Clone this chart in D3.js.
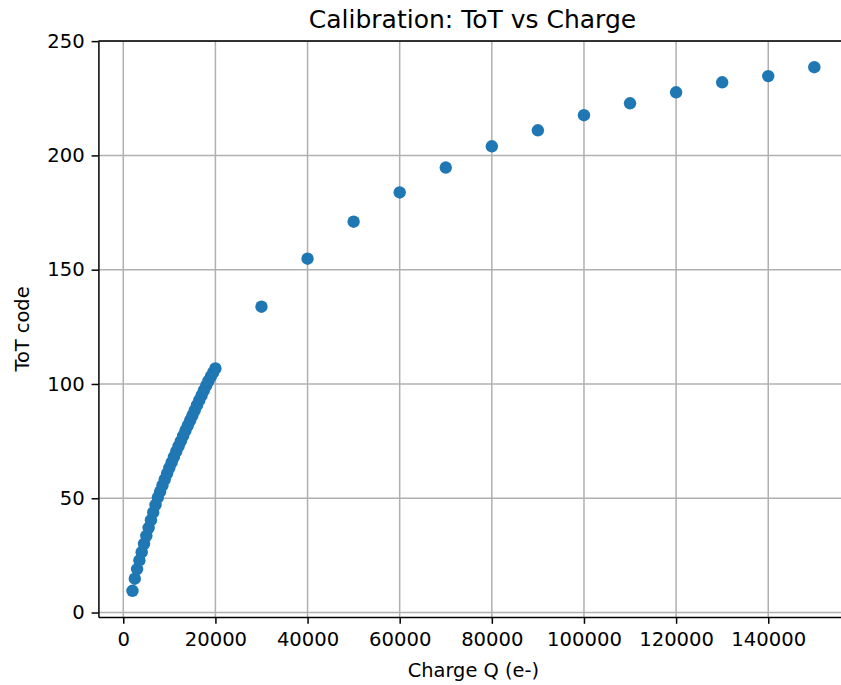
<!DOCTYPE html>
<html>
<head>
<meta charset="utf-8">
<script src="https://cdn.jsdelivr.net/npm/d3@7"></script>
<style>
    body { margin: 0; background: #fff; }
    text { font-family: "DejaVu Sans", sans-serif; fill: #000; }
</style>
</head>
<body>
<div id="chart"></div>
<script>
// dense scan, charge in e-
const chargeFine = [
    2000, 2500, 3000, 3500, 4000, 4500, 5000, 5500, 6000, 6500,
    7000, 7500, 8000, 8500, 9000, 9500, 10000, 10500, 11000, 11500,
    12000, 12500, 13000, 13500, 14000, 14500, 15000, 15500, 16000, 16500,
    17000, 17500, 18000, 18500, 19000, 19500, 20000
];
const totFine = [
    9.5, 14.8, 19.0, 22.8, 26.4, 30.0, 33.5, 37.0, 40.4, 43.8,
    47.1, 50.3, 52.9, 55.6, 58.2, 60.8, 63.3, 65.7, 68.1, 70.5,
    72.8, 75.0, 77.3, 79.6, 81.8, 84.0, 86.2, 88.4, 90.7, 92.9,
    95.0, 97.2, 99.3, 101.3, 103.2, 105.0, 106.8
];
// coarse scan
const chargeCoarse = [30000, 40000, 50000, 60000, 70000, 80000, 90000, 100000, 110000, 120000, 130000, 140000, 150000];
const totCoarse = [133.8, 154.8, 171.0, 183.8, 194.7, 204.0, 211.0, 217.6, 222.8, 227.6, 232.0, 234.7, 238.6];

const xTicks = [0, 20000, 40000, 60000, 80000, 100000, 120000, 140000];
const yTicks = [0, 50, 100, 150, 200, 250];

(function () {
    const W = 841, H = 685;
    const margin = { top: 41, left: 98.4, bottom: 68 };
    const plotW = 750, plotH = H - margin.top - margin.bottom; // right edge runs past the window

    const points = chargeFine.map((q, i) => ({ q: q, t: totFine[i] }))
        .concat(chargeCoarse.map((q, i) => ({ q: q, t: totCoarse[i] })));

    const svg = d3.select("#chart").append("svg")
        .attr("width", W)
        .attr("height", H);

    const g = svg.append("g")
        .attr("transform", `translate(${margin.left},${margin.top})`);

    // 5% padding like matplotlib autoscale
    const xExt = d3.extent(points, d => d.q), xPad = (xExt[1] - xExt[0]) * 0.05;
    const yExt = d3.extent(points, d => d.t), yPad = (yExt[1] - yExt[0]) * 0.05;

    const x = d3.scaleLinear().domain([xExt[0] - xPad, xExt[1] + xPad]).range([0, plotW]);
    const y = d3.scaleLinear().domain([yExt[0] - yPad, yExt[1] + yPad]).range([plotH, 0]);

    // grid
    g.append("g").selectAll("line").data(xTicks).enter().append("line")
        .attr("x1", d => x(d)).attr("x2", d => x(d))
        .attr("y1", 0).attr("y2", plotH)
        .attr("stroke", "#b0b0b0").attr("stroke-width", 1.5);
    g.append("g").selectAll("line").data(yTicks).enter().append("line")
        .attr("x1", 0).attr("x2", plotW)
        .attr("y1", d => y(d)).attr("y2", d => y(d))
        .attr("stroke", "#b0b0b0").attr("stroke-width", 1.5);

    // points
    g.append("g").selectAll("circle").data(points).enter().append("circle")
        .attr("cx", d => x(d.q))
        .attr("cy", d => y(d.t))
        .attr("r", 6.2)
        .attr("fill", "#1f77b4");

    // axes
    const xAxis = g.append("g")
        .attr("transform", `translate(0,${plotH})`)
        .call(d3.axisBottom(x).tickValues(xTicks).tickFormat(d3.format("d")).tickSize(6.8).tickPadding(8).tickSizeOuter(0));
    const yAxis = g.append("g")
        .call(d3.axisLeft(y).tickValues(yTicks).tickSize(6.8).tickPadding(7).tickSizeOuter(0));

    [xAxis, yAxis].forEach(a => {
        a.select(".domain").attr("stroke", "#000").attr("stroke-width", 1.5);
        a.selectAll(".tick line").attr("stroke", "#000").attr("stroke-width", 1.5);
        a.selectAll(".tick text").style("font-family", "DejaVu Sans").style("font-size", "19.6px").attr("fill", "#000");
    });

    // top spine
    g.append("line")
        .attr("x1", 0).attr("x2", plotW).attr("y1", 0).attr("y2", 0)
        .attr("stroke", "#000").attr("stroke-width", 1.5);

    // labels
    svg.append("text")
        .attr("x", 472.5).attr("y", 28)
        .attr("text-anchor", "middle")
        .style("font-size", "25px")
        .text("Calibration: ToT vs Charge");

    svg.append("text")
        .attr("x", margin.left + plotW / 2).attr("y", 677)
        .attr("text-anchor", "middle")
        .style("font-size", "19.4px")
        .text("Charge Q (e-)");

    svg.append("text")
        .attr("transform", `translate(29,${margin.top + plotH / 2}) rotate(-90)`)
        .attr("text-anchor", "middle")
        .style("font-size", "19.4px")
        .text("ToT code");
})();
</script>
</body>
</html>
